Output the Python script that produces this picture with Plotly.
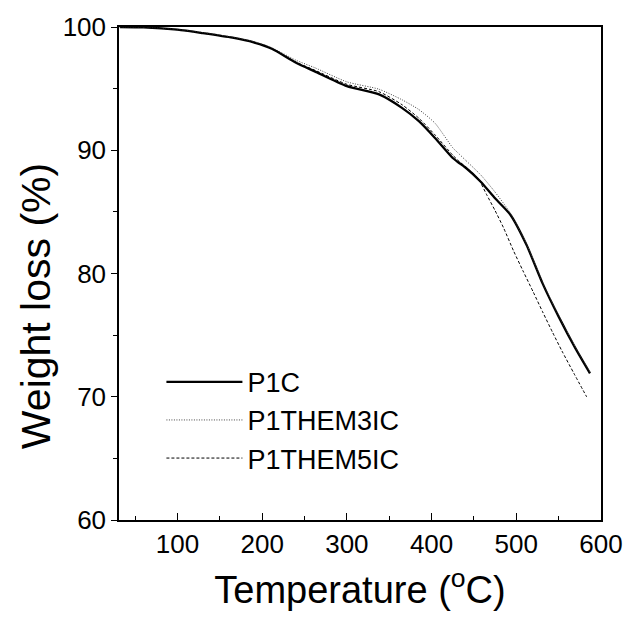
import plotly.graph_objects as go

# Temperature (°C) and weight (%)
temp_p1c = [32, 60, 100, 130, 165, 190, 212, 240, 262, 300, 338, 365, 385, 404, 425, 431, 440, 458, 475, 493, 512, 531, 550, 570, 587]
wt_p1c = [100, 99.97, 99.78, 99.5, 99.13, 98.75, 98.22, 97.1, 96.4, 95.2, 94.53, 93.44, 92.36, 91.0, 89.37, 89.05, 88.6, 87.45, 86.1, 84.77, 82.33, 79.2, 76.5, 73.9, 71.9]

temp_m3 = [32, 60, 100, 130, 165, 190, 212, 240, 262, 300, 338, 365, 385, 404, 425, 431, 440, 458, 475, 493, 512, 531, 550, 570, 587]
wt_m3 = [100, 99.98, 99.8, 99.55, 99.18, 98.82, 98.3, 97.3, 96.7, 95.55, 94.95, 94.1, 93.3, 92.2, 90.2, 89.8, 89.2, 88.0, 86.6, 84.9, 82.4, 79.3, 76.6, 74.0, 72.0]

temp_m5 = [32, 60, 100, 130, 165, 190, 212, 240, 262, 300, 338, 365, 385, 404, 425, 431, 440, 455, 465, 475, 485, 497, 508, 520, 531, 543, 554, 568, 583]
wt_m5 = [100, 99.97, 99.78, 99.5, 99.14, 98.77, 98.24, 97.15, 96.5, 95.35, 94.75, 93.7, 92.6, 91.25, 89.6, 89.2, 88.65, 87.7, 86.4, 85.1, 83.7, 81.8, 80.2, 78.5, 76.9, 75.2, 73.7, 71.9, 70.0]

series_names = ["P1C", "P1THEM3IC", "P1THEM5IC"]
x_title = "Temperature (<sup>o</sup>C)"
y_title = "Weight loss (%)"

FONT = "Liberation Sans, Arial, Helvetica, sans-serif"

fig = go.Figure()
fig.add_trace(go.Scatter(x=temp_p1c, y=wt_p1c, mode="lines", name=series_names[0],
                         line=dict(color="black", width=2.3, shape="spline", smoothing=0.6)))
fig.add_trace(go.Scatter(x=temp_m3, y=wt_m3, mode="lines", name=series_names[1],
                         line=dict(color="#444", width=1, dash="1px,1.5px", shape="spline", smoothing=0.6)))
fig.add_trace(go.Scatter(x=temp_m5, y=wt_m5, mode="lines", name=series_names[2],
                         line=dict(color="black", width=1, dash="3px,2px", shape="spline", smoothing=0.6)))

fig.update_layout(
    width=619, height=603,
    margin=dict(l=111, r=18, t=4, b=91),
    paper_bgcolor="white", plot_bgcolor="white",
    font=dict(family=FONT, color="black", size=26),
    showlegend=True,
    legend=dict(x=0.088, y=0.329, xanchor="left", yanchor="top",
                bgcolor="rgba(0,0,0,0)", font=dict(size=27, family=FONT), itemwidth=76,
                tracegroupgap=0),
    annotations=[dict(text=y_title, xref="paper", yref="paper", x=-0.172, y=0.434,
                      xanchor="center", yanchor="middle", textangle=-90, showarrow=False,
                      font=dict(size=41, family=FONT, color="black"))],
)
fig.update_xaxes(
    range=[31, 600], showgrid=False, zeroline=False,
    showline=True, linecolor="black", linewidth=1.5, mirror=True,
    ticks="inside", ticklen=7, tickwidth=1.2, tickcolor="black",
    tickvals=[100, 200, 300, 400, 500, 600], ticklabeloverflow="allow",
    tickfont=dict(size=26, family=FONT),
    minor=dict(tickvals=[50, 150, 250, 350, 450, 550], ticks="inside", ticklen=4, tickcolor="black", tickwidth=1.2),
    title=dict(text=x_title, font=dict(size=38, family=FONT), standoff=20),
)
fig.update_yaxes(
    range=[60, 100], showgrid=False, zeroline=False,
    showline=True, linecolor="black", linewidth=1.5, mirror=True,
    ticks="outside", ticklen=6, tickwidth=1.2, tickcolor="black",
    tickvals=[60, 70, 80, 90, 100], ticklabeloverflow="allow",
    tickfont=dict(size=26, family=FONT),
    minor=dict(tickvals=[65, 75, 85, 95], ticks="outside", ticklen=4, tickcolor="black", tickwidth=1.2),
)

fig.write_html("out.html")
